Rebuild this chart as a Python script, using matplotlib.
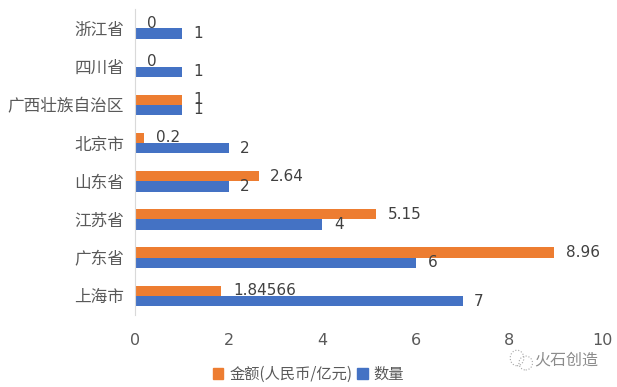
import matplotlib
matplotlib.use("Agg")
import matplotlib.pyplot as plt
from matplotlib.patches import Patch, Ellipse
import numpy as np

plt.rcParams['font.family'] = ['Noto Sans CJK SC', 'DejaVu Sans']

# categories listed bottom to top
regions = ["上海市", "广东省", "江苏省", "山东省", "北京市", "广西壮族自治区", "四川省", "浙江省"]
amount = [1.84566, 8.96, 5.15, 2.64, 0.2, 1, 0, 0]
amount_labels = ["1.84566", "8.96", "5.15", "2.64", "0.2", "1", "0", "0"]
count = [7, 6, 4, 2, 2, 1, 1, 1]
x_ticks = [0, 2, 4, 6, 8, 10]

ORANGE = "#ED7D31"
BLUE = "#4472C4"
TEXT = "#595959"

fig = plt.figure(figsize=(6.17, 3.87), dpi=100)
ax = fig.add_axes([0.219, 0.186, 0.758, 0.79])

y = np.arange(len(regions))
h = 0.27
ax.barh(y + h / 2, amount, height=h, color=ORANGE)
ax.barh(y - h / 2, count, height=h, color=BLUE)

for yi, v, lab in zip(y, amount, amount_labels):
    ax.text(v + 0.25, yi + h / 2, lab, va="center", ha="left",
            fontsize=11, color="#404040", family="DejaVu Sans")
for yi, v in zip(y, count):
    ax.text(v + 0.25, yi - h / 2, str(v), va="center", ha="left",
            fontsize=11, color="#404040", family="DejaVu Sans")

ax.set_xlim(0, 10)
ax.set_ylim(-0.5, len(regions) - 0.5)
ax.set_xticks(x_ticks)
ax.set_xticklabels([str(t) for t in x_ticks], fontsize=11.5, color=TEXT,
                   family="DejaVu Sans")
ax.set_yticks(y)
ax.set_yticklabels(regions, fontsize=12, color=TEXT)
ax.tick_params(length=0, pad=8)
ax.tick_params(axis="x", pad=13)
for s in ["top", "right", "bottom"]:
    ax.spines[s].set_visible(False)
ax.spines["left"].set_color("#D9D9D9")

handles = [Patch(color=ORANGE, label="金额(人民币/亿元)"),
           Patch(color=BLUE, label="数量")]
fig.legend(handles=handles, loc="center", bbox_to_anchor=(0.5, 0.033), ncol=2,
           frameon=False, fontsize=11, handlelength=0.7, handleheight=0.7,
           handletextpad=0.4, columnspacing=0.3, labelcolor=TEXT)

# brand mark at bottom right
fig.text(0.917, 0.07, "火石创造", fontsize=11.5, color="#8C8C8C", ha="center", va="center")
fig.patches.append(Ellipse((0.838, 0.075), 0.022, 0.04, transform=fig.transFigure,
                           fill=False, ec="#A6A6A6", lw=0.8, ls=":"))
fig.patches.append(Ellipse((0.852, 0.062), 0.022, 0.036, transform=fig.transFigure,
                           fill=False, ec="#A6A6A6", lw=0.8, ls=":"))

fig.savefig("out.png", dpi=100)
